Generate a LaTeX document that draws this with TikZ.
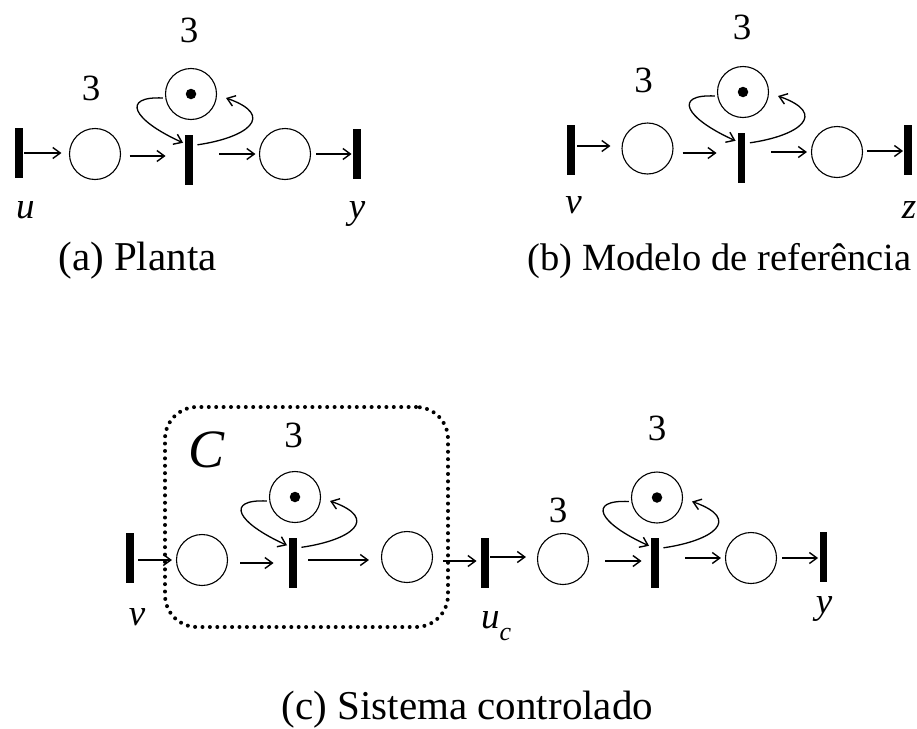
\documentclass[tikz,border=0pt]{standalone}
\usepackage{fontspec}
\setmainfont{Liberation Serif}
\usetikzlibrary{arrows.meta,calc}
\tikzset{
  trn/.style={rectangle, fill=black, minimum width=7.5pt, minimum height=50pt, inner sep=0pt},
  plc/.style={circle, draw, line width=1.1pt, minimum size=51pt, inner sep=0pt},
  tok/.style={circle, fill=black, minimum size=10.5pt, inner sep=0pt},
  arr/.style={line width=1.3pt, -{Straight Barb[length=7.5pt,width=11pt,line width=1.4pt]}},
  num/.style={anchor=base, inner sep=0pt, font=\fontsize{37}{42}\selectfont},
  var/.style={anchor=base, inner sep=0pt, font=\fontsize{37}{42}\selectfont\itshape},
  captxt/.style={anchor=base, inner sep=0pt, font=\fontsize{41}{48}\selectfont},
  ctrlbox/.style={draw, line width=4pt, dash pattern=on 0pt off 7.4pt, line cap=round, rounded corners=32pt, inner sep=0pt}
}
\newcommand\pnloops[2]{%
  \draw[arr] ([xshift=-2pt,yshift=-4pt]#1.west) .. controls +(-42,-2) and +(-51,-23) .. ([xshift=-2pt,yshift=-8pt]#2.north west);
  \draw[arr] ([xshift=4.5pt,yshift=-10pt]#2.north east) .. controls +(49,-7) and +(51,18) .. ([xshift=9pt,yshift=-4pt]#1.east);
}
\begin{document}
\begin{tikzpicture}[x=1pt,y=-1pt]
\useasboundingbox (0,0) rectangle (917,728);

% ---------------- panel (a)
\node[trn] (ta1) at (19,153) {};
\node[plc] (pa1) at (95,154) {};
\node[trn] (ta2) at (189,160) {};
\node[plc] (paS) at (191,94) {};
\node[tok] (ka) at (191,94) {};
\node[plc] (pa3) at (285,154) {};
\node[trn] (ta3) at (357,153.5) {};
\draw[arr, shorten <=1.5pt, shorten >=7.5pt] (ta1.east) -- (ta1.east -| pa1.west);
\draw[arr, shorten <=8.5pt, shorten >=19.5pt] ([yshift=-2pt]pa1.east) -- ([yshift=-2pt]pa1.east -| ta2.west);
\draw[arr, shorten <=26.5pt, shorten >=3.5pt] (ta2.east |- pa3.west) -- (pa3.west);
\draw[arr, shorten <=5pt, shorten >=1.5pt] (pa3.east) -- (pa3.east -| ta3.west);
\pnloops{paS}{ta2}
\node[num] (na1) at (91,100) {3};
\node[num] (na2) at (189,42) {3};
\node[var] (lu) at (25.5,218) {u};
\node[var] (ly) at (357,218) {y};
\node[captxt] (capa) at (137.5,270) {(a) Planta};

% ---------------- panel (b)
\node[trn] (tb1) at (571,150) {};
\node[plc] (pb1) at (647.5,148.5) {};
\node[trn] (tb2) at (741.5,158) {};
\node[plc] (pbS) at (743,92) {};
\node[tok] (kb) at (743,92) {};
\node[plc] (pb3) at (837,152) {};
\node[trn] (tb3) at (908,150) {};
\draw[arr, shorten <=2.5pt, shorten >=11pt] ([yshift=4pt]tb1.east) -- ([yshift=4pt]tb1.east -| pb1.west);
\draw[arr, shorten <=9pt, shorten >=21pt] ([yshift=-4.5pt]pb1.east) -- ([yshift=-4.5pt]pb1.east -| tb2.west);
\draw[arr, shorten <=26pt, shorten >=4pt] (tb2.east |- pb3.west) -- (pb3.west);
\draw[arr, shorten <=4pt, shorten >=1pt] ([yshift=1pt]pb3.east) -- ([yshift=1pt]pb3.east -| tb3.west);
\pnloops{pbS}{tb2}
\node[num] (nb1) at (643.5,92) {3};
\node[num] (nb2) at (742,39) {3};
\node[var] (lv) at (573.5,213) {v};
\node[var] (lz) at (909,218) {z};
\node[captxt, font=\fontsize{38.5}{46}\selectfont] (capb) at (719.5,270) {(b) Modelo de referência};

% ---------------- panel (c)
\node[ctrlbox, minimum width=283pt, minimum height=220pt] (ctl) at (306.5,517) {};
\node[trn] (tc1) at (130,557.5) {};
\node[plc] (pc1) at (202,560) {};
\node[trn] (tc2) at (293,562.5) {};
\node[plc] (pcS) at (295,497) {};
\node[tok] (kc) at (295,497) {};
\node[plc] (pc3) at (407,557) {};
\node[trn] (tcu) at (485,563) {};
\node[plc] (pc4) at (563,559) {};
\node[trn] (tc3) at (655,563) {};
\node[plc] (pcT) at (657,497.5) {};
\node[tok] (kd) at (657,497.5) {};
\node[plc] (pc5) at (751,558) {};
\node[trn] (tc4) at (823.5,557) {};
\draw[arr, shorten <=4.5pt, shorten >=4pt] (tc1.east |- pc1.west) -- (pc1.west);
\draw[arr, shorten <=12pt, shorten >=15.5pt] ([yshift=-3pt]pc1.east) -- ([yshift=-3pt]pc1.east -| tc2.west);
\draw[arr, shorten <=11.5pt, shorten >=12pt] ([yshift=-3pt]pc3.west -| tc2.east) -- ([yshift=-3pt]pc3.west);
\draw[arr, shorten <=10pt, shorten >=4.5pt] ([yshift=2pt]pc3.east |- tcu.west) -- ([yshift=2pt]tcu.west);
\draw[arr, shorten <=1.5pt, shorten >=11pt] ([yshift=2pt]tcu.east |- pc4.west) -- ([yshift=2pt]pc4.west);
\draw[arr, shorten <=16pt, shorten >=9.5pt] ([yshift=-2pt]pc4.east) -- ([yshift=-2pt]pc4.east -| tc3.west);
\draw[arr, shorten <=26.5pt, shorten >=4pt] (tc3.east |- pc5.west) -- (pc5.west);
\draw[arr, shorten <=5pt, shorten >=1.5pt] (pc5.east) -- (pc5.east -| tc4.west);
\pnloops{pcS}{tc2}
\pnloops{pcT}{tc3}
\node[anchor=base, inner sep=0pt, font=\fontsize{54}{60}\selectfont\itshape] (lC) at (207,467) {C};
\node[num] (nc1) at (293.5,447) {3};
\node[num] (nc2) at (558,522) {3};
\node[num] (nc3) at (657,440) {3};
\node[var] (lv2) at (137,625) {v};
\node[var, anchor=base west] (luc) at (481,628) {u\raisebox{-12pt}{\fontsize{26}{28}\selectfont c}};
\node[var] (ly2) at (824,613) {y};
\node[captxt] (capc) at (467.5,719) {(c) Sistema controlado};
\end{tikzpicture}
\end{document}
